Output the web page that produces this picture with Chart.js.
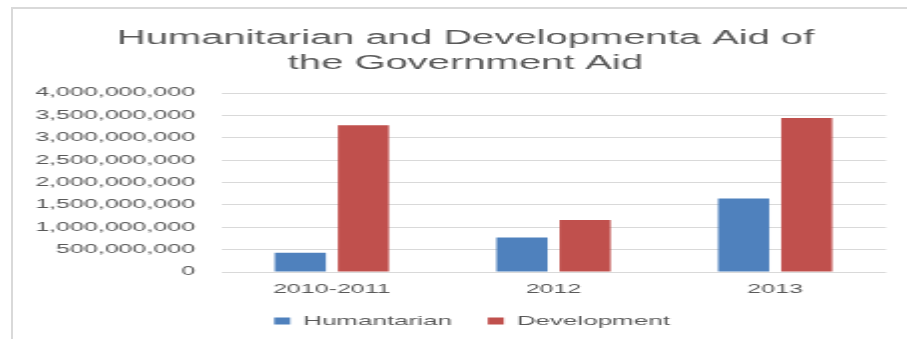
<!DOCTYPE html>
<html>
<head>
<meta charset="utf-8">
<title>Humanitarian and Development Aid</title>
<script src="https://cdn.jsdelivr.net/npm/chart.js@4.4.0/dist/chart.umd.min.js"></script>
<style>
    html, body { margin: 0; padding: 0; background: #fff; overflow: hidden; }
    #frame {
        position: absolute; left: 11px; top: 7px; width: 920px; height: 360px;
        border-left: 2px solid #d9d9d9; border-top: 2px solid #d9d9d9;
    }
    /* chart is laid out narrow and then stretched wide */
    #wrap {
        position: absolute; left: 0; top: 0; width: 454px; height: 339px;
        transform: scaleX(1.9978); transform-origin: 0 0;
    }
</style>
</head>
<body>
<div id="frame"></div>
<div id="wrap"><canvas id="aidChart"></canvas></div>
<script>
'use strict';
var years = ['2010-2011', '2012', '2013'];
var humanitarian = [430000000, 770000000, 1640000000];
var development = [3280000000, 1160000000, 3440000000];
var seriesNames = ['Humantarian', 'Development'];
var titleLines = ['Humanitarian and Developmenta Aid of', 'the Government Aid'];
var yMax = 4000000000;
var yStep = 500000000;

var grey = '#595959';
Chart.defaults.font.family = "'Liberation Sans', Arial, sans-serif";

// nudge title and legend so they sit a bit right of the canvas middle
var blockShift = {
    id: 'blockShift',
    afterLayout: function (chart) {
        if (chart.titleBlock) {
            chart.titleBlock.left = 22.5;
        }
        if (chart.legend) {
            chart.legend.left += 10.5;
            chart.legend.right += 10.5;
        }
    }
};

var ctx = document.getElementById('aidChart').getContext('2d');
var chart = new Chart(ctx, {
    type: 'bar',
    data: {
        labels: years,
        datasets: [{
            label: seriesNames[0],
            backgroundColor: '#4f81bd',
            data: humanitarian
        }, {
            label: seriesNames[1],
            backgroundColor: '#c0504d',
            data: development
        }]
    },
    options: {
        responsive: true,
        maintainAspectRatio: false,
        animation: false,
        categoryPercentage: 0.569,
        barPercentage: 0.81,
        layout: { padding: { left: 8, right: 10.5, top: 10, bottom: 1.5 } },
        plugins: {
            tooltip: { enabled: false },
            title: {
                display: true,
                text: titleLines,
                color: grey,
                font: { size: 20, weight: 'normal', lineHeight: 1.25 },
                padding: { top: 16, bottom: 17 }
            },
            legend: {
                position: 'bottom',
                labels: {
                    boxWidth: 8,
                    boxHeight: 7,
                    padding: 18,
                    color: grey,
                    font: { size: 13 }
                }
            }
        },
        scales: {
            x: {
                grid: { display: false, drawTicks: false },
                border: { display: false },
                ticks: { color: grey, font: { size: 12.5 }, padding: 10 },
                afterFit: function (scale) { scale.height = 24.5; }
            },
            y: {
                min: 0,
                max: yMax,
                grid: { color: '#d9d9d9', drawTicks: false },
                border: { display: false },
                ticks: {
                    stepSize: yStep,
                    color: grey,
                    font: { size: 12.5 },
                    padding: 13,
                    callback: function (v) { return v.toLocaleString('en-US'); }
                },
                afterFit: function (scale) { scale.width = 102.6; }
            }
        }
    },
    plugins: [blockShift]
});
</script>
</body>
</html>
